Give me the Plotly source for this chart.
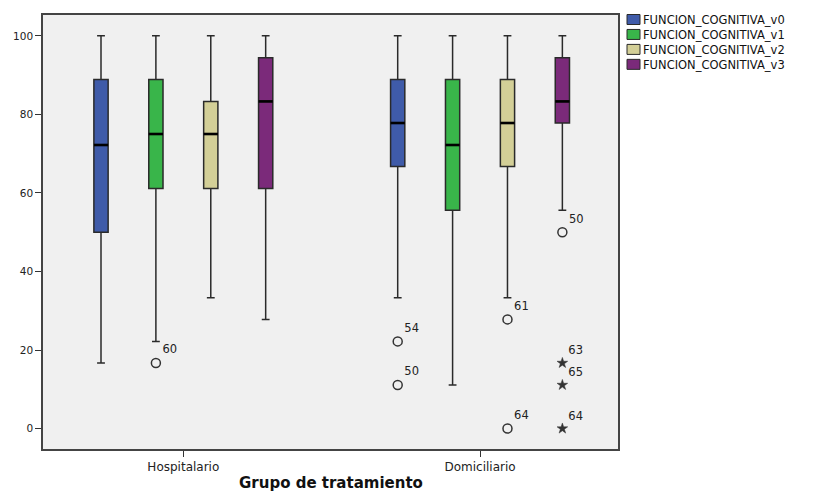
import plotly.graph_objects as go

groups = ["Hospitalario", "Domiciliario"]
series = ["FUNCION_COGNITIVA_v0", "FUNCION_COGNITIVA_v1", "FUNCION_COGNITIVA_v2", "FUNCION_COGNITIVA_v3"]
colors = ["#3F5BA9", "#39B54A", "#D3CF97", "#7B2A7A"]

# per series: [Hospitalario, Domiciliario]
lower = [[16.7, 33.3], [22.2, 11.1], [33.3, 33.3], [27.8, 55.6]]
q1 = [[50.0, 66.7], [61.1, 55.6], [61.1, 66.7], [61.1, 77.8]]
median = [[72.2, 77.8], [75.0, 72.2], [75.0, 77.8], [83.3, 83.3]]
q3 = [[88.9, 88.9], [88.9, 88.9], [83.3, 88.9], [94.4, 94.4]]
upper = [[100.0, 100.0], [100.0, 100.0], [100.0, 100.0], [100.0, 100.0]]

# outliers: (series index, group index, value, label, kind)
outliers = [
    (1, 0, 16.7, "60", "o"),
    (0, 1, 22.2, "54", "o"),
    (0, 1, 11.1, "50", "o"),
    (2, 1, 27.8, "61", "o"),
    (2, 1, 0.0, "64", "o"),
    (3, 1, 50.0, "50", "o"),
    (3, 1, 16.7, "63", "*"),
    (3, 1, 11.1, "65", "*"),
    (3, 1, 0.0, "64", "*"),
]

W, H = 815, 493
ML, MR, MT, MB = 43, 197, 15, 44
PW, PH = W - ML - MR, H - MT - MB

slot = 0.185
bw = 0.048
FONT = "DejaVu Sans, Verdana, sans-serif"
LINE = "#2a2a2a"

def xpos(s, g):
    return g + (s - 1.5) * slot

fig = go.Figure()
for s, name in enumerate(series):
    fig.add_trace(go.Box(
        name=name,
        x=[xpos(s, g) for g in range(len(groups))],
        q1=q1[s], median=median[s], q3=q3[s],
        lowerfence=lower[s], upperfence=upper[s],
        fillcolor=colors[s],
        line=dict(color=LINE, width=1.5),
        width=bw,
        whiskerwidth=0.55,
        boxpoints=False,
        showlegend=False,
        hoverinfo="skip",
    ))

# thicker black median lines
mx, my = [], []
for s in range(len(series)):
    for g in range(len(groups)):
        c = xpos(s, g)
        mx += [c - bw / 2, c + bw / 2, None]
        my += [median[s][g], median[s][g], None]
fig.add_trace(go.Scatter(x=mx, y=my, mode="lines",
                         line=dict(color="black", width=2.6),
                         showlegend=False, hoverinfo="skip"))

for kind, sym, size, lw in (("o", "circle-open", 9, 1.5), ("*", "star", 8, 0.5)):
    pts = [o for o in outliers if o[4] == kind]
    fig.add_trace(go.Scatter(
        x=[xpos(o[0], o[1]) for o in pts],
        y=[o[2] for o in pts],
        text=[o[3] for o in pts],
        mode="markers+text",
        textposition="top right",
        textfont=dict(family=FONT, size=11.5, color="#222222"),
        marker=dict(symbol=sym, size=size, color="#333333",
                    line=dict(color="#333333", width=lw)),
        showlegend=False,
        hoverinfo="skip",
    ))

# legend drawn manually (compact SPSS-style)
def px_x(p):
    return (p - ML) / PW

def px_y(p):
    return (H - MB - p) / PH

LEG_FS = 11.5
leg_step = LEG_FS * 1.3
leg_first = 19.5
shapes = []
for s in range(len(series)):
    cy = leg_first + s * leg_step
    shapes.append(dict(type="rect", xref="paper", yref="paper",
                       x0=px_x(627), x1=px_x(640), y0=px_y(cy + 5), y1=px_y(cy - 5),
                       fillcolor=colors[s], line=dict(color=LINE, width=1)))

annotations = [
    dict(xref="paper", yref="paper", x=px_x(641), y=px_y(leg_first - leg_step / 2 - 1),
         xanchor="left", yanchor="top", align="left", showarrow=False,
         text="<br>".join(series), font=dict(family=FONT, size=LEG_FS, color="#111111")),
    dict(xref="paper", yref="paper", x=0.5, y=0, yanchor="top",
         yshift=-23, showarrow=False,
         text="<b>Grupo de tratamiento</b>",
         font=dict(family=FONT, size=15, color="#111111")),
]

fig.update_layout(
    width=W, height=H,
    margin=dict(l=ML, r=MR, t=MT, b=MB),
    paper_bgcolor="white",
    plot_bgcolor="#F0F0F0",
    boxmode="overlay",
    showlegend=False,
    font=dict(family=FONT, size=11, color="#222222"),
    shapes=shapes,
    annotations=annotations,
    xaxis=dict(
        range=[-0.473, 1.465],
        tickvals=list(range(len(groups))), ticktext=groups,
        ticks="outside", ticklen=6, tickcolor="#333333",
        showline=True, linecolor="#444444", linewidth=1.5, mirror=True,
        showgrid=False, zeroline=False, automargin=False,
        tickfont=dict(size=12),
    ),
    yaxis=dict(
        range=[-5.2, 105.3],
        tickvals=[0, 20, 40, 60, 80, 100],
        ticks="outside", ticklen=6, tickcolor="#333333",
        showline=True, linecolor="#444444", linewidth=1.5, mirror=True,
        showgrid=False, zeroline=False, automargin=False,
        tickfont=dict(size=10.5),
    ),
)

fig.write_html("out.html")
